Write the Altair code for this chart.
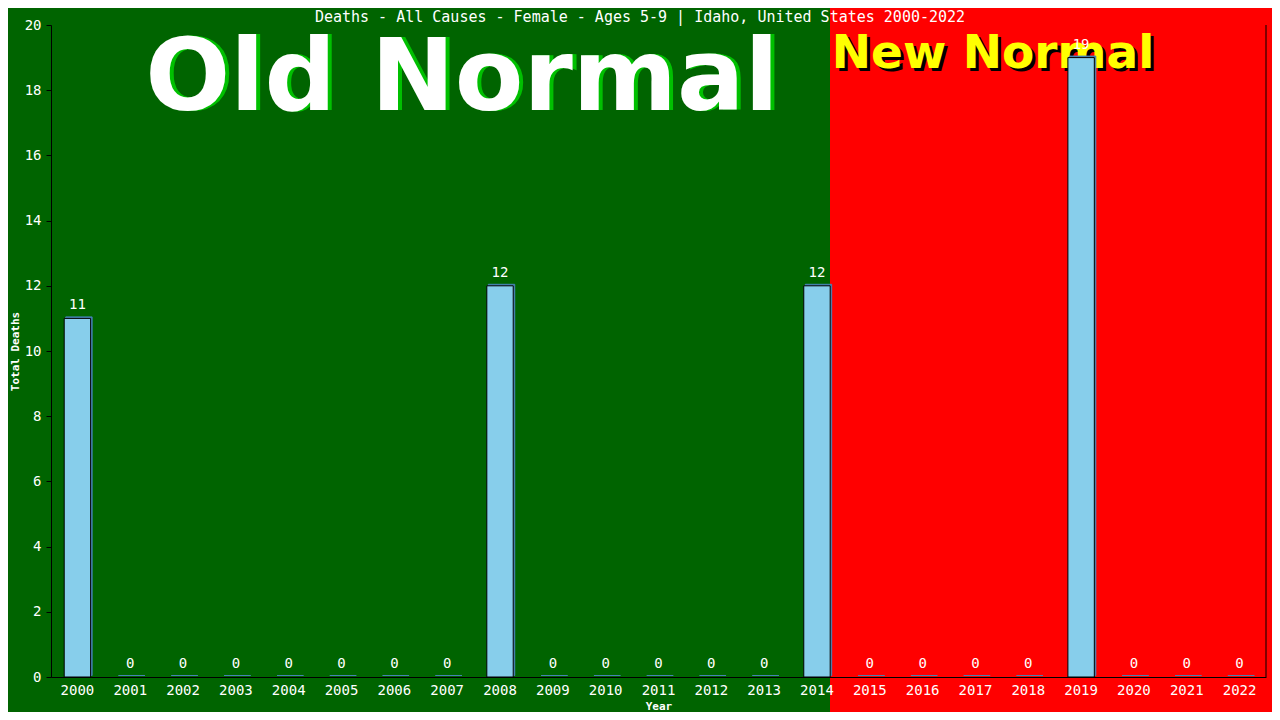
import altair as alt
import pandas as pd

years = ["2000", "2001", "2002", "2003", "2004", "2005", "2006", "2007",
         "2008", "2009", "2010", "2011", "2012", "2013", "2014", "2015",
         "2016", "2017", "2018", "2019", "2020", "2021", "2022"]
deaths = [11, 0, 0, 0, 0, 0, 0, 0, 12, 0, 0, 0, 0, 0, 12, 0, 0, 0, 0, 19, 0, 0, 0]
y_ticks = [0, 2, 4, 6, 8, 10, 12, 14, 16, 18, 20]

title_text = "Deaths - All Causes - Female - Ages 5-9 | Idaho, United States 2000-2022"

df = pd.DataFrame({"Year": years, "Deaths": deaths})
one = alt.InlineData(values=[{"k": 1}])

W, H = 1215, 652
MONO = "DejaVu Sans Mono"
SANS = "DejaVu Sans"

x_scale = alt.Scale(domain=years, paddingInner=0.5, paddingOuter=0.25)
y_scale = alt.Scale(domain=[0, 20], nice=False)

bg_green = alt.Chart(one).mark_rect(color="#006400").encode(
    x=alt.value(-43), x2=alt.value(779), y=alt.value(-17), y2=alt.value(H + 35)
)

old_shadow = alt.Chart(one).mark_text(
    text="Old Normal", font=SANS, fontWeight="bold", fontSize=100,
    color="#00C000", align="center", baseline="alphabetic"
).encode(x=alt.value(415), y=alt.value(85))
old_text = alt.Chart(one).mark_text(
    text="Old Normal", font=SANS, fontWeight="bold", fontSize=100,
    color="#FFFFFF", align="center", baseline="alphabetic"
).encode(x=alt.value(411), y=alt.value(85))

new_shadow = alt.Chart(one).mark_text(
    text="New Normal", font=SANS, fontWeight="bold", fontSize=47,
    color="#000000", align="center", baseline="alphabetic"
).encode(x=alt.value(945), y=alt.value(46))
new_text = alt.Chart(one).mark_text(
    text="New Normal", font=SANS, fontWeight="bold", fontSize=47,
    color="#FFFF00", align="center", baseline="alphabetic"
).encode(x=alt.value(942), y=alt.value(43))

base = alt.Chart(df)

shadow_bars = base.mark_bar(
    color="#4682B4", stroke="#4682B4", strokeWidth=1, xOffset=1.5, yOffset=-1.5
).encode(
    x=alt.X("Year:N", scale=x_scale, sort=years,
            axis=alt.Axis(title="Year", labelAngle=0, ticks=False, tickSize=0,
                          labelPadding=6, labelFont=MONO, labelFontSize=14,
                          labelColor="white", domainColor="black", domainWidth=1,
                          titleFont=MONO, titleFontSize=11, titleFontWeight="bold",
                          titleColor="white", titleY=29, titleBaseline="middle",
                          grid=False, zindex=1)),
    y=alt.Y("Deaths:Q", scale=y_scale,
            axis=alt.Axis(title="Total Deaths", values=y_ticks, tickSize=5,
                          tickColor="black", labelPadding=5, labelFont=MONO,
                          labelFontSize=14, labelColor="white", domainColor="black",
                          titleFont=MONO, titleFontSize=11, titleFontWeight="bold",
                          titleColor="white", titleX=-36, titleY=H / 2,
                          titleBaseline="middle", grid=False, zindex=1)),
)

main_bars = base.transform_filter("datum.Deaths > 0").mark_bar(
    color="#87CEEB", stroke="black", strokeWidth=1
).encode(
    x=alt.X("Year:N", scale=x_scale, sort=years),
    y=alt.Y("Deaths:Q", scale=y_scale),
)

labels = base.mark_text(
    font=MONO, fontSize=14, color="white", baseline="alphabetic", dy=-9
).encode(
    x=alt.X("Year:N", scale=x_scale, sort=years),
    y=alt.Y("Deaths:Q", scale=y_scale),
    text=alt.Text("Deaths:Q"),
)

right_rule = alt.Chart(one).mark_rule(color="black", strokeWidth=1).encode(
    x=alt.value(W), y=alt.value(0), y2=alt.value(H)
)

title = alt.Chart(one).mark_text(
    text=title_text, font=MONO, fontSize=15, color="white",
    align="center", baseline="alphabetic"
).encode(x=alt.value(589), y=alt.value(-3))

chart = alt.layer(
    bg_green, old_shadow, old_text, new_shadow, new_text,
    shadow_bars, main_bars, labels, right_rule, title
).properties(
    width=W, height=H,
    padding={"left": 43, "top": 17, "right": 6, "bottom": 35},
    autosize=alt.AutoSizeParams(type="none"),
    background="#FF0000",
).configure_view(strokeWidth=0)

chart.save("out.html", embed_options={"renderer": "svg", "actions": False})
